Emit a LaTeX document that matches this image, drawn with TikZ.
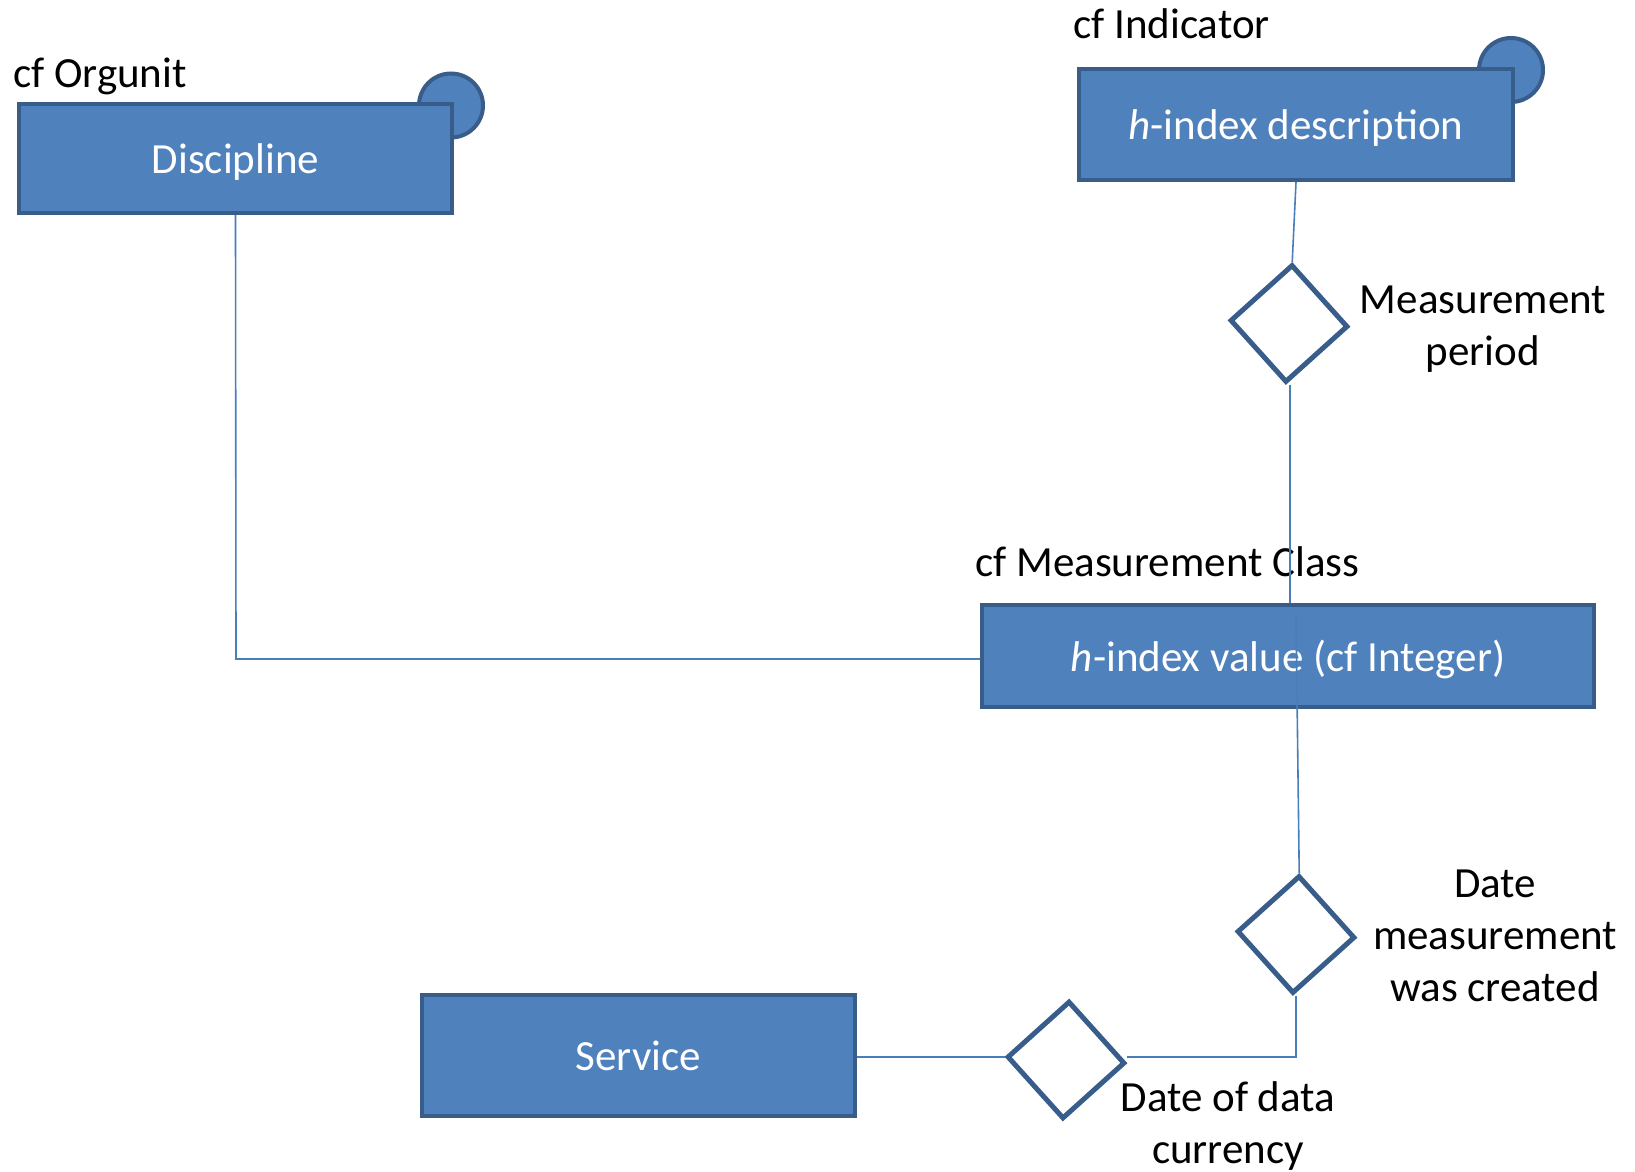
\documentclass[tikz,border=0pt]{standalone}
\usepackage{fontspec}
\setmainfont{Carlito}
\usetikzlibrary{shapes.geometric}
\definecolor{boxfill}{HTML}{4F81BD}
\definecolor{boxline}{HTML}{385D8A}
\definecolor{connline}{HTML}{4A7EBB}
\begin{document}
\begin{tikzpicture}[x=1pt,y=-1pt,
  entity/.style={rectangle, fill=boxfill, draw=boxline, line width=4pt, text=white, inner sep=0pt, text depth=0pt, font=\fontsize{43}{52}\selectfont},
  knob/.style={circle, fill=boxfill, draw=boxline, line width=4pt, inner sep=0pt, minimum size=64pt},
  rel/.style={diamond, aspect=1, draw=boxline, line width=5pt, fill=white, inner sep=0pt, minimum width=118pt, minimum height=118pt, rotate=-3},
  lbl/.style={text=black, inner sep=0pt, font=\fontsize{43}{52}\selectfont, align=center},
  conn/.style={draw=connline, line width=1.6pt}]
\useasboundingbox (0,0) rectangle (1635,1172);
% attribute knobs
\node[knob] (k1) at (451,105.5) {};
\node[knob] (k2) at (1511,70) {};
% entities
\node[entity, minimum width=433pt, minimum height=109pt] (disc) at (235.5,158.5) {Discipline};
\node[entity, minimum width=434pt, minimum height=111pt] (desc) at (1296,124.5) {\textit{h}-index description};
\node[entity, minimum width=612pt, minimum height=102pt] (meas) at (1288,656) {\textit{h}-index value (cf Integer)};
\node[entity, minimum width=433pt, minimum height=121pt] (serv) at (638.5,1055.5) {Service};
% relationships
\node[rel] (d1) at (1289,323.5) {};
\node[rel] (d2) at (1296,934.5) {};
\node[rel] (d3) at (1066,1060) {};
% titles
\node[lbl, anchor=base west] (t1) at (13,87) {cf Orgunit};
\node[lbl, anchor=base west] (t2) at (1073,38) {cf Indicator};
\node[lbl, anchor=base west] (t3) at (975,576) {cf Measurement Class};
% relationship labels
\node[lbl] (l1) at (1483,329) {Measurement\\period};
\node[lbl] (l2) at (1495,936) {Date\\measurement\\was created};
\node[lbl] (l3) at (1228,1126) {Date of data\\currency};
% connectors
\coordinate (m1) at (1290,603);
\coordinate (m2) at (1296,615);
\coordinate (bend1) at (236,659);
\draw[conn] (desc.south) -- (d1.north);
\draw[conn] (d1.south -| m1) -- (m1);
\draw[conn] (m2) -- (d2.north);
\draw[conn] (d2.south -| m2) -- (m2 |- d3.west) -- (d3.west -| d3.east);
\draw[conn] (serv.east |- d3.west) -- (d3.west);
\draw[conn] (disc.south) -- (bend1) -- (bend1 -| meas.west);
\end{tikzpicture}
\end{document}
